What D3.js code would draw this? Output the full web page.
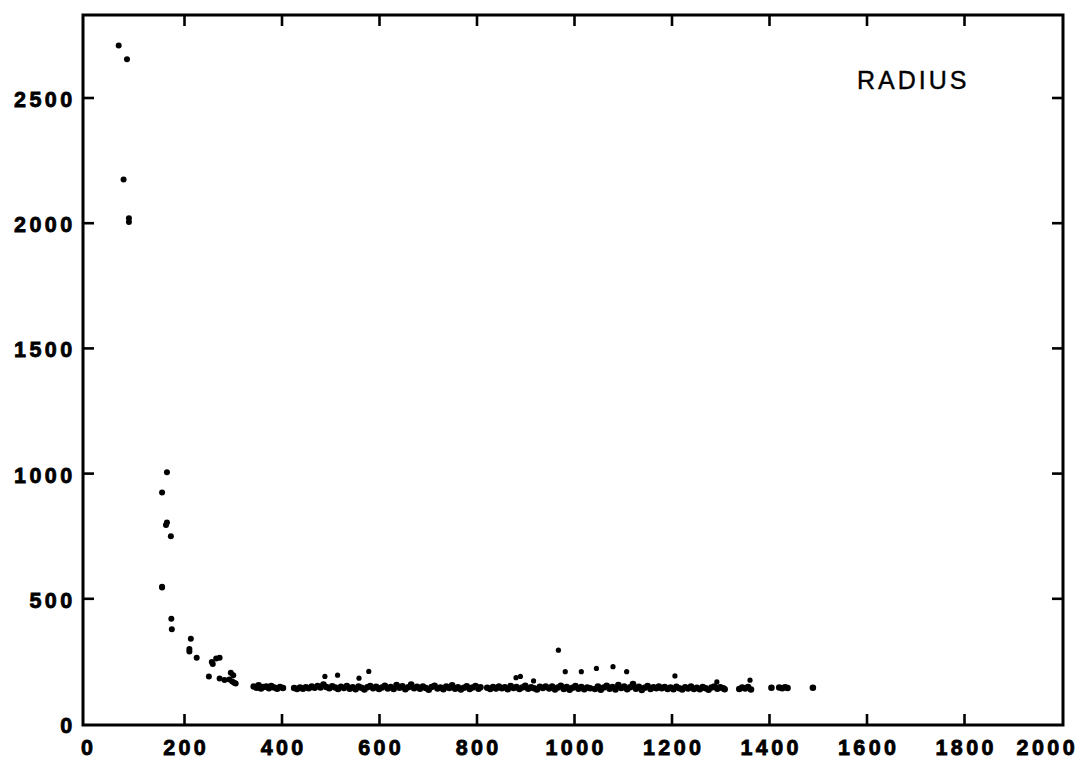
<!DOCTYPE html>
<html>
<head>
<meta charset="utf-8">
<script src="https://cdn.jsdelivr.net/npm/d3@7"></script>
<style>
  html, body { margin: 0; padding: 0; background: #fff; }
  svg { display: block; }
  .tick-label { font-family: "Liberation Sans", Arial, sans-serif; font-weight: bold; font-size: 21.5px; letter-spacing: 3.4px; fill: #000; stroke: #000; stroke-width: 0.8px; }
  .title { font-family: "Liberation Sans", Arial, sans-serif; font-size: 25px; letter-spacing: 3px; fill: #000; stroke: #000; stroke-width: 0.4px; }
</style>
</head>
<body>
<script>
// ---- data ----
const xTickValues = [0, 200, 400, 600, 800, 1000, 1200, 1400, 1600, 1800, 2000];
const yTickValues = [0, 500, 1000, 1500, 2000, 2500];
const seriesLabel = "RADIUS";

// steep decay at small x
const decayX = [65, 82, 75, 86, 86, 164, 154, 164, 162, 172, 154, 154, 173, 174, 213, 210, 210, 225, 256, 258, 265, 272, 250, 272, 282, 292, 295, 300, 302, 305, 298];
const decayY = [2710, 2655, 2175, 2005, 2020, 1005, 925, 805, 795, 750, 548, 545, 420, 378, 340, 300, 290, 265, 248, 240, 262, 265, 190, 182, 176, 178, 205, 195, 165, 162, 170];

// flat band around 145
const bandX = [342, 348, 352, 357, 362, 368, 373, 378, 384, 390, 396, 402,
  425, 431, 437, 443, 449, 455, 461, 467, 473, 479, 485, 491, 497, 503, 509, 515, 521, 527, 533, 539, 545, 551, 557, 563, 569, 575, 581, 587, 593, 599, 605, 611, 617, 623, 629, 635, 641, 647, 653, 659, 665, 671, 677, 683, 689, 695, 701, 707, 713, 719, 725, 731, 737, 743, 749, 755, 761, 767, 773, 779, 785, 791, 797, 803, 807,
  821, 827, 833, 839, 845, 851, 857, 863, 869, 875, 881, 887, 893, 899, 905, 911, 917, 923, 929, 935, 941,
  948, 954, 960, 966, 972, 978, 984, 990, 996, 1002, 1008, 1014, 1020, 1026, 1032,
  1042, 1048, 1054, 1060, 1066, 1072, 1078, 1084, 1090, 1096, 1102, 1108, 1114, 1120, 1126, 1132, 1138, 1144, 1150, 1156, 1162, 1168, 1173,
  1179, 1185, 1191, 1197, 1203, 1209, 1215, 1221, 1227, 1233, 1239, 1245, 1251, 1257, 1263, 1269, 1275, 1281, 1287, 1293, 1299, 1305, 1308,
  1338, 1344, 1350, 1356, 1362, 1404, 1420, 1426, 1432, 1437, 1489];
const bandY = [150, 145, 155, 142, 148, 150, 143, 152, 146, 141, 148, 144,
  144, 140, 146, 141, 147, 143, 150, 145, 152, 146, 158, 148, 143, 151, 146, 140, 149, 144, 152, 141, 147, 139, 150, 145, 138, 147, 152, 143, 149, 140, 146, 153, 142, 148, 140, 156, 145, 151, 139, 147, 158, 143, 149, 141, 150, 144, 137, 148, 153, 142, 146, 139, 150, 144, 155, 141, 147, 138, 145, 151, 140, 146, 152, 141, 147,
  145, 140, 148, 142, 150, 143, 147, 139, 152, 144, 148, 140, 146, 153, 141, 147, 143, 138, 149, 144, 150,
  142, 150, 138, 146, 153, 140, 148, 137, 145, 152, 141, 148, 139, 146, 143,
  140, 150, 137, 146, 153, 141, 148, 138, 156, 144, 150, 139, 147, 160, 141, 149, 136, 145, 152, 140, 147, 143, 150,
  143, 148, 140, 146, 139, 149, 143, 138, 147, 142, 150, 140, 145, 139, 148, 143, 137, 146, 150, 141, 147, 143, 139,
  140, 146, 142, 148, 138, 145, 146, 143, 147, 144, 145];

// scattered points above the band
const outlierX = [488, 514, 558, 578, 880, 889, 916, 967, 981, 1014, 1045, 1079, 1107, 1206, 1292, 1360];
const outlierY = [190, 195, 183, 210, 185, 190, 172, 295, 209, 209, 222, 229, 209, 192, 168, 175];

// ---- drawing ----
const W = 1083, H = 760;
const frame = { left: 83, right: 1063, top: 15, bottom: 725 };

const svg = d3.select("body").append("svg").attr("width", W).attr("height", H);

const x = d3.scaleLinear().domain([0, 2000]).range([87, 1062]);
const y = d3.scaleLinear().domain([0, 2500]).range([724, 98]);

const tickLen = 11;
const g = svg.append("g");

// frame
g.append("rect")
  .attr("x", frame.left).attr("y", frame.top)
  .attr("width", frame.right - frame.left).attr("height", frame.bottom - frame.top)
  .attr("fill", "none").attr("stroke", "#000").attr("stroke-width", 3);

// inner x ticks (bottom and top)
const innerX = xTickValues.filter(v => v > 0 && v < 2000);
g.selectAll(".xt-b").data(innerX).enter().append("line")
  .attr("x1", d => x(d)).attr("x2", d => x(d))
  .attr("y1", frame.bottom).attr("y2", frame.bottom - tickLen)
  .attr("stroke", "#000").attr("stroke-width", 2.6);
g.selectAll(".xt-t").data(innerX).enter().append("line")
  .attr("x1", d => x(d)).attr("x2", d => x(d))
  .attr("y1", frame.top).attr("y2", frame.top + tickLen)
  .attr("stroke", "#000").attr("stroke-width", 2.6);

// inner y ticks (left and right)
const innerY = yTickValues.filter(v => v > 0);
g.selectAll(".yt-l").data(innerY).enter().append("line")
  .attr("x1", frame.left).attr("x2", frame.left + tickLen)
  .attr("y1", d => y(d)).attr("y2", d => y(d))
  .attr("stroke", "#000").attr("stroke-width", 2.6);
g.selectAll(".yt-r").data(innerY).enter().append("line")
  .attr("x1", frame.right).attr("x2", frame.right - tickLen)
  .attr("y1", d => y(d)).attr("y2", d => y(d))
  .attr("stroke", "#000").attr("stroke-width", 2.6);

// x tick labels
g.selectAll(".xl").data(xTickValues).enter().append("text")
  .attr("class", "tick-label")
  .attr("x", d => d === 2000 ? 1078 : x(d) + 1.7)
  .attr("y", 755)
  .attr("text-anchor", d => d === 2000 ? "end" : "middle")
  .text(d => d);

// y tick labels
g.selectAll(".yl").data(yTickValues).enter().append("text")
  .attr("class", "tick-label")
  .attr("x", 75.5)
  .attr("y", d => y(d) + 9)
  .attr("text-anchor", "end")
  .text(d => d);

// series label
g.append("text").attr("class", "title")
  .attr("x", 857).attr("y", 89)
  .text(seriesLabel);

// points
const pts = [];
decayX.forEach((v, i) => pts.push([v, decayY[i], 3]));
bandX.forEach((v, i) => pts.push([v, bandY[i], 3.3]));
outlierX.forEach((v, i) => pts.push([v, outlierY[i], 2.6]));

g.selectAll(".pt").data(pts).enter().append("circle")
  .attr("cx", d => x(d[0]))
  .attr("cy", d => y(d[1]))
  .attr("r", d => d[2])
  .attr("fill", "#000");
</script>
</body>
</html>
